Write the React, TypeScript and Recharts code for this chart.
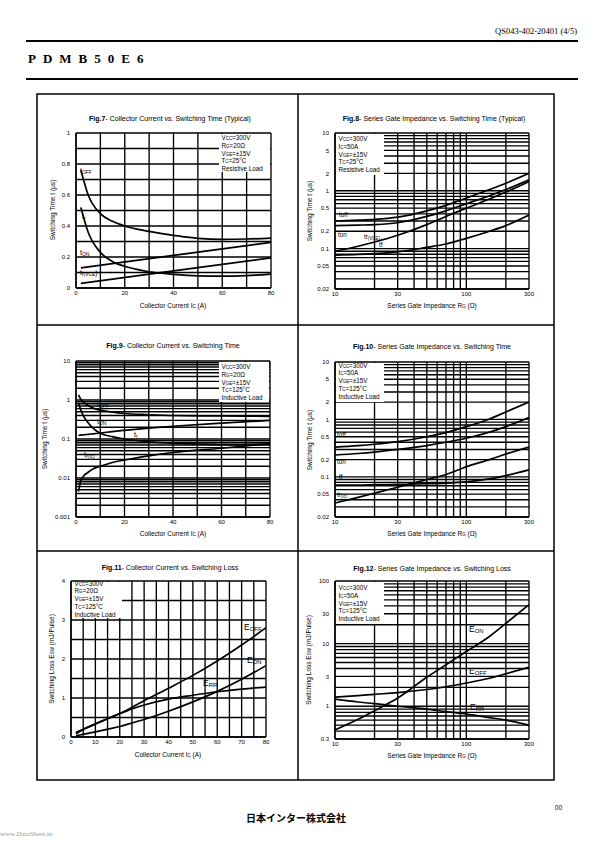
import React from "react";
import { LineChart, Line, XAxis, YAxis, CartesianGrid } from "recharts";

const SANS = "'Liberation Sans', Arial, sans-serif";
const SERIF = "'Liberation Serif', 'DejaVu Serif', serif";

// ---- Fig.7 collector current vs switching time (typical, resistive)
const fig7Current = [2, 5, 10, 15, 20, 25, 30, 40, 50, 60, 70, 80];
const fig7Toff = [0.76, 0.6, 0.48, 0.43, 0.4, 0.38, 0.365, 0.34, 0.32, 0.314, 0.316, 0.322];
const fig7Tr = [0.52, 0.36, 0.23, 0.17, 0.14, 0.12, 0.105, 0.088, 0.078, 0.076, 0.08, 0.09];
const fig7LineCurrent = [2, 40, 80];
const fig7Ton = [0.13, 0.21, 0.295];
const fig7TrVce = [0.03, 0.11, 0.195];
const fig7XGrid = [0, 10, 20, 30, 40, 50, 60, 70, 80];
const fig7XLabels = [0, 20, 40, 60, 80];
const fig7YGrid = [0, 0.1, 0.2, 0.3, 0.4, 0.5, 0.6, 0.7, 0.8, 0.9, 1];
const fig7YLabels = [0, 0.2, 0.4, 0.6, 0.8, 1];

// ---- Fig.8 gate impedance vs switching time (typical, resistive)
const fig8Rg = [10, 15, 20, 30, 50, 70, 100, 150, 200, 300];
const fig8Toff = [0.3, 0.31, 0.32, 0.35, 0.45, 0.56, 0.75, 1.05, 1.35, 2.0];
const fig8Ton = [0.25, 0.255, 0.26, 0.28, 0.36, 0.45, 0.6, 0.82, 1.05, 1.55];
const fig8TrVce = [0.09, 0.11, 0.13, 0.17, 0.26, 0.36, 0.5, 0.72, 0.95, 1.45];
const fig8Tf = [0.077, 0.079, 0.082, 0.088, 0.105, 0.12, 0.15, 0.2, 0.25, 0.38];

// ---- Fig.9 collector current vs switching time (inductive)
const fig9Current = [1, 2, 3, 5, 7, 10, 15, 20, 30, 40, 60, 80];
const fig9Toff = [1.35, 1.05, 0.9, 0.72, 0.62, 0.55, 0.49, 0.45, 0.42, 0.4, 0.39, 0.38];
const fig9Tr = [0.85, 0.55, 0.4, 0.26, 0.19, 0.14, 0.115, 0.1, 0.085, 0.078, 0.072, 0.073];
const fig9Ton = [0.124, 0.126, 0.128, 0.132, 0.136, 0.142, 0.155, 0.167, 0.19, 0.212, 0.255, 0.3];
const fig9TrIc = [0.0045, 0.0085, 0.011, 0.014, 0.017, 0.02, 0.025, 0.029, 0.037, 0.045, 0.058, 0.076];
const fig9YGrid = [
  0.001, 0.002, 0.003, 0.004, 0.005, 0.006, 0.007, 0.008, 0.009,
  0.01, 0.02, 0.03, 0.04, 0.05, 0.06, 0.07, 0.08, 0.09,
  0.1, 0.2, 0.3, 0.4, 0.5, 0.6, 0.7, 0.8, 0.9,
  1, 2, 3, 4, 5, 6, 7, 8, 9, 10,
];
const fig9YLabels = [0.001, 0.01, 0.1, 1, 10];

// ---- Fig.10 gate impedance vs switching time (inductive)
const fig10Rg = [10, 15, 20, 30, 50, 70, 100, 150, 200, 300];
const fig10Toff = [0.33, 0.35, 0.37, 0.41, 0.5, 0.59, 0.75, 1.02, 1.35, 2.0];
const fig10Ton = [0.24, 0.255, 0.27, 0.3, 0.35, 0.4, 0.47, 0.6, 0.75, 1.08];
const fig10Tf = [0.072, 0.072, 0.073, 0.074, 0.076, 0.078, 0.082, 0.092, 0.105, 0.132];
const fig10TrIc = [0.035, 0.044, 0.052, 0.066, 0.09, 0.11, 0.15, 0.2, 0.25, 0.33];

// shared log time axis (fig 8 / 10)
const timeGrid = [
  0.02, 0.03, 0.04, 0.05, 0.06, 0.07, 0.08, 0.09,
  0.1, 0.2, 0.3, 0.4, 0.5, 0.6, 0.7, 0.8, 0.9,
  1, 2, 3, 4, 5, 6, 7, 8, 9, 10,
];
const timeLabels = [0.02, 0.05, 0.1, 0.2, 0.5, 1, 2, 5, 10];
const rgGrid = [10, 20, 30, 40, 50, 60, 70, 80, 90, 100, 200, 300];
const rgLabels = [10, 30, 100, 300];

// ---- Fig.11 collector current vs switching loss
const fig11Current = [2, 5, 10, 15, 20, 25, 30, 40, 50, 60, 70, 80];
const fig11Eoff = [0.12, 0.2, 0.34, 0.47, 0.6, 0.76, 0.93, 1.25, 1.58, 1.95, 2.36, 2.8];
const fig11Eon = [0.03, 0.07, 0.13, 0.2, 0.27, 0.36, 0.45, 0.66, 0.9, 1.17, 1.48, 1.83];
const fig11Err = [0.08, 0.19, 0.33, 0.47, 0.6, 0.72, 0.82, 0.97, 1.07, 1.16, 1.23, 1.28];
const fig11XGrid = [0, 5, 10, 15, 20, 25, 30, 35, 40, 45, 50, 55, 60, 65, 70, 75, 80];
const fig11XLabels = [0, 10, 20, 30, 40, 50, 60, 70, 80];
const fig11YGrid = [0, 0.5, 1, 1.5, 2, 2.5, 3, 3.5, 4];
const fig11YLabels = [0, 1, 2, 3, 4];

// ---- Fig.12 gate impedance vs switching loss
const fig12Rg = [10, 15, 20, 30, 50, 70, 100, 150, 200, 300];
const fig12Eon = [0.42, 0.62, 0.85, 1.35, 2.9, 4.6, 7.5, 13, 21, 42];
const fig12Eoff = [1.4, 1.48, 1.55, 1.65, 1.85, 2.05, 2.35, 2.8, 3.3, 4.2];
const fig12Err = [1.3, 1.17, 1.1, 1.0, 0.9, 0.82, 0.75, 0.66, 0.6, 0.5];
const fig12YGrid = [
  0.3, 0.4, 0.5, 0.6, 0.7, 0.8, 0.9,
  1, 2, 3, 4, 5, 6, 7, 8, 9,
  10, 20, 30, 40, 50, 60, 70, 80, 90, 100,
];
const fig12YLabels = [0.3, 1, 3, 10, 30, 100];

// legend lines: main text, {s} = subscript
type Seg = string | { s: string };
const legend7: Seg[][] = [["V", { s: "CC" }, "=300V"], ["R", { s: "G" }, "=20Ω"], ["V", { s: "GE" }, "=±15V"], ["T", { s: "C" }, "=25°C"], ["Resistive Load"]];
const legend8: Seg[][] = [["V", { s: "CC" }, "=300V"], ["I", { s: "C" }, "=50A"], ["V", { s: "GE" }, "=±15V"], ["T", { s: "C" }, "=25°C"], ["Resistive Load"]];
const legend9: Seg[][] = [["V", { s: "CC" }, "=300V"], ["R", { s: "G" }, "=20Ω"], ["V", { s: "GE" }, "=±15V"], ["T", { s: "C" }, "=125°C"], ["Inductive Load"]];
const legend10: Seg[][] = [["V", { s: "CC" }, "=300V"], ["I", { s: "C" }, "=50A"], ["V", { s: "GE" }, "=±15V"], ["T", { s: "C" }, "=125°C"], ["Inductive Load"]];

const zip = (xs: number[], ys: number[]) => xs.map((x, i) => ({ x, y: ys[i] }));

type Series = { xs: number[]; ys: number[]; type?: "monotone" | "linear" };

interface PanelProps {
  x: number;
  y: number;
  w: number;
  h: number;
  xLog?: boolean;
  yLog?: boolean;
  xDomain: [number, number];
  yDomain: [number, number];
  xGrid: number[];
  xLabels: number[];
  yGrid: number[];
  yLabels: number[];
  series: Series[];
}

const YW = 34;
const TOP = 4;
const RIGHT = 8;
const XH = 16;

function Panel(p: PanelProps) {
  const fmt = (labels: number[]) => (v: number) => (labels.includes(v) ? String(v) : "");
  const tick = { fontSize: 6, fill: "#000", fontFamily: SANS };
  return (
    <div style={{ position: "absolute", left: p.x - YW, top: p.y - TOP }}>
      <LineChart width={p.w + YW + RIGHT} height={p.h + TOP + XH} margin={{ top: TOP, right: RIGHT, left: 0, bottom: 0 }}>
        <CartesianGrid stroke="#000" strokeWidth={1.35} />
        <XAxis
          type="number"
          dataKey="x"
          scale={p.xLog ? "log" : "linear"}
          domain={p.xDomain}
          ticks={p.xGrid}
          interval={0}
          allowDataOverflow
          tickLine={false}
          tickSize={2}
          tickMargin={1}
          height={XH}
          tick={tick}
          tickFormatter={fmt(p.xLabels)}
          axisLine={{ stroke: "#000", strokeWidth: 1.35 }}
        />
        <YAxis
          type="number"
          scale={p.yLog ? "log" : "linear"}
          domain={p.yDomain}
          ticks={p.yGrid}
          interval={0}
          allowDataOverflow
          tickLine={false}
          tickSize={3}
          tickMargin={3}
          width={YW}
          tick={tick}
          tickFormatter={fmt(p.yLabels)}
          axisLine={{ stroke: "#000", strokeWidth: 1.35 }}
        />
        {p.series.map((s, i) => (
          <Line
            key={i}
            data={zip(s.xs, s.ys)}
            dataKey="y"
            type={s.type ?? "monotone"}
            stroke="#000"
            strokeWidth={1.7}
            dot={false}
            activeDot={false}
            isAnimationActive={false}
          />
        ))}
      </LineChart>
    </div>
  );
}

function Rich({ x, y, segs, size, anchor = "start", drop = 0, rotate = false, bold = false }: {
  x: number; y: number; segs: Seg[]; size: number; anchor?: "start" | "middle" | "end"; drop?: number; rotate?: boolean; bold?: boolean;
}) {
  let down = false;
  const kids = segs.map((seg, i) => {
    if (typeof seg === "string") {
      const dy = down ? -drop : 0;
      down = false;
      return <tspan key={i} dy={dy}>{seg}</tspan>;
    }
    const dy = down ? 0 : drop;
    down = true;
    return <tspan key={i} dy={dy} fontSize={size * 0.7}>{seg.s}</tspan>;
  });
  return (
    <text
      x={x}
      y={y}
      fontSize={size}
      fontFamily={SANS}
      fontWeight={bold ? "bold" : "normal"}
      textAnchor={anchor}
      fill="#000"
      transform={rotate ? `rotate(-90 ${x} ${y})` : undefined}
    >
      {kids}
    </text>
  );
}

function Legend({ x, y, w, h, lines, top }: { x: number; y: number; w: number; h: number; lines: Seg[][]; top: number }) {
  return (
    <g>
      <rect x={x} y={y} width={w} height={h} fill="#fff" />
      {lines.map((l, i) => (
        <Rich key={i} x={x + 2.5} y={top + i * 7.8} segs={l} size={6.3} />
      ))}
    </g>
  );
}

function Title({ cx, y, fig, rest }: { cx: number; y: number; fig: string; rest: string }) {
  return (
    <text x={cx} y={y} fontSize={7} fontFamily={SANS} textAnchor="middle" fill="#000">
      <tspan fontWeight="bold">{fig}</tspan>
      <tspan>{rest}</tspan>
    </text>
  );
}

export default function App() {
  return (
    <div style={{ position: "absolute", left: 0, top: 0, width: 595, height: 842, background: "#fff", overflow: "hidden" }}>
      <Panel
        x={76} y={133} w={195} h={155}
        xDomain={[0, 80]} yDomain={[0, 1]}
        xGrid={fig7XGrid} xLabels={fig7XLabels} yGrid={fig7YGrid} yLabels={fig7YLabels}
        series={[
          { xs: fig7Current, ys: fig7Toff },
          { xs: fig7Current, ys: fig7Tr },
          { xs: fig7LineCurrent, ys: fig7Ton, type: "linear" },
          { xs: fig7LineCurrent, ys: fig7TrVce, type: "linear" },
        ]}
      />
      <Panel
        x={335} y={133} w={194} h={156} xLog yLog
        xDomain={[10, 300]} yDomain={[0.02, 10]}
        xGrid={rgGrid} xLabels={rgLabels} yGrid={timeGrid} yLabels={timeLabels}
        series={[
          { xs: fig8Rg, ys: fig8Toff },
          { xs: fig8Rg, ys: fig8Ton },
          { xs: fig8Rg, ys: fig8TrVce },
          { xs: fig8Rg, ys: fig8Tf },
        ]}
      />
      <Panel
        x={76} y={361} w={194} h={156} yLog
        xDomain={[0, 80]} yDomain={[0.001, 10]}
        xGrid={fig7XGrid} xLabels={fig7XLabels} yGrid={fig9YGrid} yLabels={fig9YLabels}
        series={[
          { xs: fig9Current, ys: fig9Toff },
          { xs: fig9Current, ys: fig9Tr },
          { xs: fig9Current, ys: fig9Ton },
          { xs: fig9Current, ys: fig9TrIc },
        ]}
      />
      <Panel
        x={335} y={362} w={194} h={155} xLog yLog
        xDomain={[10, 300]} yDomain={[0.02, 10]}
        xGrid={rgGrid} xLabels={rgLabels} yGrid={timeGrid} yLabels={timeLabels}
        series={[
          { xs: fig10Rg, ys: fig10Toff },
          { xs: fig10Rg, ys: fig10Ton },
          { xs: fig10Rg, ys: fig10Tf },
          { xs: fig10Rg, ys: fig10TrIc },
        ]}
      />
      <Panel
        x={71} y={581} w={195} h={156}
        xDomain={[0, 80]} yDomain={[0, 4]}
        xGrid={fig11XGrid} xLabels={fig11XLabels} yGrid={fig11YGrid} yLabels={fig11YLabels}
        series={[
          { xs: fig11Current, ys: fig11Eoff },
          { xs: fig11Current, ys: fig11Eon },
          { xs: fig11Current, ys: fig11Err },
        ]}
      />
      <Panel
        x={335} y={581} w={194} h={158} xLog yLog
        xDomain={[10, 300]} yDomain={[0.3, 100]}
        xGrid={rgGrid} xLabels={rgLabels} yGrid={fig12YGrid} yLabels={fig12YLabels}
        series={[
          { xs: fig12Rg, ys: fig12Eon },
          { xs: fig12Rg, ys: fig12Eoff },
          { xs: fig12Rg, ys: fig12Err },
        ]}
      />

      <svg width={595} height={842} style={{ position: "absolute", left: 0, top: 0, pointerEvents: "none" }}>
        {/* header */}
        <text x={577} y={34} fontSize={8.5} fontFamily={SERIF} textAnchor="end" fill="#000">QS043-402-20401 (4/5)</text>
        <line x1={26} y1={41} x2={578} y2={41} stroke="#000" strokeWidth={2} />
        <text x={28} y={63} fontSize={13} fontFamily={SERIF} fontWeight="bold" letterSpacing={7} fill="#000">PDMB50E6</text>
        <line x1={26} y1={79} x2={578} y2={79} stroke="#000" strokeWidth={2} />

        {/* frame */}
        <rect x={37} y={94} width={517} height={686} fill="none" stroke="#000" strokeWidth={1.5} />
        <line x1={298} y1={94} x2={298} y2={780} stroke="#000" strokeWidth={1.5} />
        <line x1={37} y1={325} x2={554} y2={325} stroke="#000" strokeWidth={1.5} />
        <line x1={37} y1={551} x2={554} y2={551} stroke="#000" strokeWidth={1.5} />

        {/* titles */}
        <Title cx={170} y={121} fig="Fig.7" rest="- Collector Current vs. Switching Time (Typical)" />
        <Title cx={434} y={121} fig="Fig.8" rest="- Series Gate Impedance vs. Switching Time  (Typical)" />
        <Title cx={173} y={348} fig="Fig.9" rest="- Collector Current vs. Switching Time" />
        <Title cx={432} y={349} fig="Fig.10" rest="- Series Gate Impedance vs. Switching Time" />
        <Title cx={170} y={570} fig="Fig.11" rest="- Collector Current vs. Switching Loss" />
        <Title cx={432} y={571} fig="Fig.12" rest="- Series Gate Impedance vs. Switching Loss" />

        {/* axis labels */}
        <Rich x={173} y={308} anchor="middle" size={6.5} segs={["Collector Current I", { s: "C" }, "  (A)"]} />
        <Rich x={432} y={308} anchor="middle" size={6.5} segs={["Series Gate Impedance R", { s: "G" }, "  (Ω)"]} />
        <Rich x={173} y={536} anchor="middle" size={6.5} segs={["Collector Current I", { s: "C" }, "  (A)"]} />
        <Rich x={432} y={536} anchor="middle" size={6.5} segs={["Series Gate Impedance R", { s: "G" }, "  (Ω)"]} />
        <Rich x={168} y={757} anchor="middle" size={6.5} segs={["Collector Current I", { s: "C" }, "  (A)"]} />
        <Rich x={432} y={758} anchor="middle" size={6.5} segs={["Series Gate Impedance R", { s: "G" }, "  (Ω)"]} />
        <Rich x={55} y={210} anchor="middle" size={6.5} rotate segs={["Switching Time t  (μs)"]} />
        <Rich x={312} y={211} anchor="middle" size={6.5} rotate segs={["Switching Time t  (μs)"]} />
        <Rich x={47} y={439} anchor="middle" size={6.5} rotate segs={["Switching Time t  (μs)"]} />
        <Rich x={312} y={440} anchor="middle" size={6.5} rotate segs={["Switching Time t  (μs)"]} />
        <Rich x={54} y={659} anchor="middle" size={6.5} rotate segs={["Switching Loss E", { s: "SW" }, " (mJ/Pulse)"]} />
        <Rich x={311} y={660} anchor="middle" size={6.5} rotate segs={["Switching Loss E", { s: "SW" }, " (mJ/Pulse)"]} />

        {/* condition boxes */}
        <Legend x={219} y={134} w={51} h={38} lines={legend7} top={140} />
        <Legend x={336} y={134} w={48} h={41} lines={legend8} top={141} />
        <Legend x={219} y={362} w={50} h={40} lines={legend9} top={369} />
        <Legend x={336} y={363} w={48} h={39} lines={legend10} top={367.5} />
        <Legend x={72} y={582} w={50} h={36} lines={legend9} top={585.5} />
        <Legend x={336} y={582} w={48} h={42} lines={legend10} top={590} />

        {/* curve labels */}
        <Rich x={80} y={173} size={7} drop={1.2} segs={["t", { s: "OFF" }]} />
        <Rich x={82} y={219} size={7} drop={1.2} segs={["t", { s: "r" }]} />
        <Rich x={80} y={255} size={7} drop={1.2} segs={["t", { s: "ON" }]} />
        <Rich x={80} y={275} size={7} drop={1.2} segs={["t", { s: "r(V" }, { s: "CE" }, ")"]} />

        <Rich x={339} y={217} size={6.3} segs={["toff"]} />
        <Rich x={338} y={237} size={6.3} segs={["ton"]} />
        <Rich x={364} y={239} size={6.3} drop={1} segs={["tr", { s: "(VCE)" }]} />
        <Rich x={379} y={247} size={6.3} segs={["tf"]} />

        <Rich x={97} y={407} size={7} drop={1.2} segs={["t", { s: "OFF" }]} />
        <Rich x={97} y={424} size={7} drop={1.2} segs={["t", { s: "ON" }]} />
        <Rich x={134} y={437} size={7} drop={1.2} segs={["t", { s: "r" }]} />
        <Rich x={84} y={457} size={7} drop={1.2} segs={["t", { s: "r(Ic)" }]} />

        <Rich x={337} y={437} size={6.3} segs={["toff"]} />
        <Rich x={337} y={464} size={6.3} segs={["ton"]} />
        <Rich x={339} y={479} size={6.3} segs={["tf"]} />
        <Rich x={337} y={497} size={6.3} drop={1} segs={["tr", { s: "(Ic)" }]} />

        <Rich x={244} y={630} size={8.5} drop={1.2} segs={["E", { s: "OFF" }]} />
        <Rich x={247} y={663} size={8.5} drop={1.2} segs={["E", { s: "ON" }]} />
        <Rich x={203} y={686} size={8.5} drop={1.2} segs={["E", { s: "RR" }]} />

        <Rich x={469} y={632} size={8.5} drop={1.2} segs={["E", { s: "ON" }]} />
        <Rich x={469} y={674} size={8.5} drop={1.2} segs={["E", { s: "OFF" }]} />
        <Rich x={470} y={710} size={8.5} drop={1.2} segs={["E", { s: "RR" }]} />

        {/* footer */}
        <text x={562} y={810} fontSize={6.5} fontFamily={SANS} textAnchor="end" fill="#000">00</text>
        <text x={296} y={822} fontSize={10} fontFamily="'Noto Sans CJK JP', sans-serif" fontWeight="bold" textAnchor="middle" fill="#000">日本インター株式会社</text>
        <text x={0} y={836} fontSize={7} fontFamily={SERIF} fill="#999">www.DataSheet.in</text>
      </svg>
    </div>
  );
}
